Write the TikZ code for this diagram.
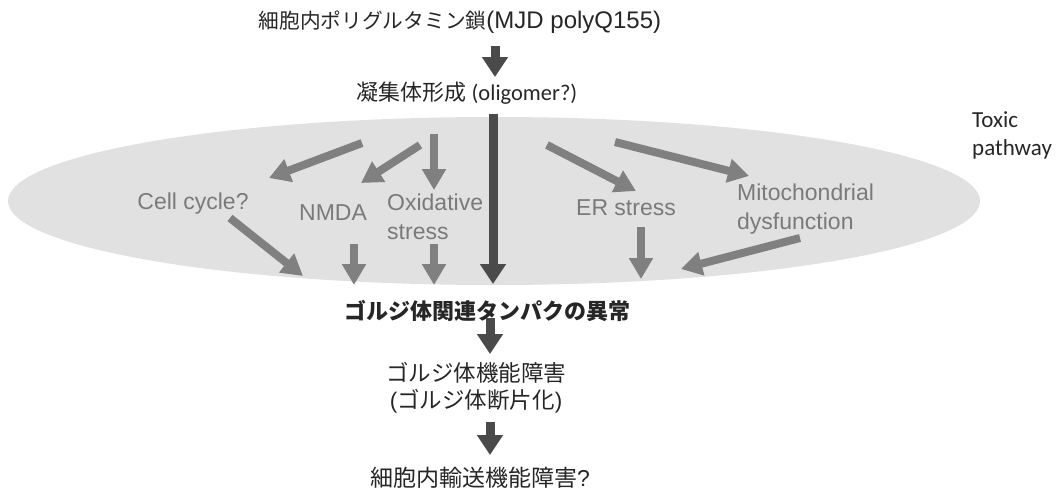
\documentclass[tikz,border=0pt]{standalone}
\usepackage{fontspec}
\setmainfont{Liberation Sans}
\newfontfamily\jpfont{Noto Sans CJK JP}
\newfontfamily\latinfont{Liberation Sans}
\newfontfamily\carlitofont{Carlito}
\usetikzlibrary{arrows.meta,shapes.geometric}
\definecolor{darkarr}{HTML}{4A4A4A}
\definecolor{grayarr}{HTML}{808080}
\definecolor{graytxt}{HTML}{7A7A7A}
\definecolor{ellfill}{HTML}{E1E1E1}
\definecolor{maintxt}{HTML}{262626}
\begin{document}
\begin{tikzpicture}[x=1pt,y=-1pt,
  jptext/.style={font=\jpfont\fontsize{22}{27}\selectfont, text=maintxt, inner sep=0pt, align=center},
  entext/.style={font=\latinfont\fontsize{23}{29}\selectfont, text=graytxt, inner sep=0pt, align=left},
  darkarrow/.style={draw=darkarr, line width=9pt, -{Triangle[width=25pt,length=20pt]}},
  grayarrow/.style={draw=grayarr, line width=8pt, -{Triangle[width=23pt,length=21pt]}},
  ell/.style={ellipse, fill=ellfill, draw=none, minimum width=972pt, minimum height=168pt, inner sep=0pt}
]
\useasboundingbox (0,0) rectangle (1059,491);
\node[ell] (zone) at (494,201) {};

% main texts
\node[jptext, font=\jpfont\fontsize{20.7}{27}\selectfont] (t1) at (460,22) {細胞内ポリグルタミン鎖{\latinfont\fontsize{24}{27}\selectfont(MJD polyQ155)}};
\node[jptext] (t2) at (467,93) {凝集体形成 {\carlitofont\fontsize{22.5}{27}\selectfont(oligomer?)}};
\node[jptext, font=\jpfont\bfseries\fontsize{22}{27}\selectfont] (t3) at (487,311) {ゴルジ体関連タンパクの異常};
\node[jptext, font=\jpfont\fontsize{22.5}{27}\selectfont] (t4) at (476,388) {ゴルジ体機能障害\\{\latinfont(}ゴルジ体断片化{\latinfont)}};
\node[jptext, font=\jpfont\fontsize{23}{27}\selectfont] (t5) at (480,478) {細胞内輸送機能障害{\latinfont ?}};
\node[font=\carlitofont\fontsize{23}{28}\selectfont, text=maintxt, align=left, inner sep=0pt, anchor=west] (tox) at (972,135) {Toxic\\pathway};

% gray labels
\node[entext] (cc) at (193,204) {Cell cycle?};
\node[entext] (nmda) at (333,213) {NMDA};
\node[entext, anchor=west] (ox) at (387,217) {Oxidative\\stress};
\node[entext] (er) at (626,208) {ER stress};
\node[entext, anchor=west] (mito) at (737,209) {Mitochondrial\\dysfunction};

% coordinates
\coordinate (a1s) at (495,46);
\coordinate (a1e) at (495,77);
\coordinate (ms) at (493,114);
\coordinate (me) at (493,284);
\coordinate (a3s) at (490,318);
\coordinate (a3e) at (490,354);
\coordinate (a4s) at (490,422);
\coordinate (a4e) at (490,455);

\coordinate (g1s) at (362,143);
\coordinate (g1e) at (269,178);
\coordinate (g2s) at (420,145);
\coordinate (g2e) at (361,183);
\coordinate (g3s) at (434,134);
\coordinate (g3e) at (434,190);
\coordinate (g4s) at (230,218);
\coordinate (g4e) at (303,276);
\coordinate (g5s) at (354,244);
\coordinate (g5e) at (354,285);
\coordinate (g6s) at (434,244);
\coordinate (g6e) at (434,285);
\coordinate (g7s) at (547,145);
\coordinate (g7e) at (636,191);
\coordinate (g8s) at (615,142);
\coordinate (g8e) at (749,176);
\coordinate (g9s) at (641,227);
\coordinate (g9e) at (641,279);
\coordinate (g10s) at (800,238);
\coordinate (g10e) at (681,269);

% dark arrows
\draw[darkarrow] (a1s) -- (a1e);
\draw[darkarrow] (ms) -- (me);
\draw[darkarrow] (a3s) -- (a3e);
\draw[darkarrow] (a4s) -- (a4e);

% gray arrows
\draw[grayarrow] (g1s) -- (g1e);
\draw[grayarrow] (g2s) -- (g2e);
\draw[grayarrow] (g3s) -- (g3e);
\draw[grayarrow] (g4s) -- (g4e);
\draw[grayarrow] (g5s) -- (g5e);
\draw[grayarrow] (g6s) -- (g6e);
\draw[grayarrow] (g7s) -- (g7e);
\draw[grayarrow] (g8s) -- (g8e);
\draw[grayarrow] (g9s) -- (g9e);
\draw[grayarrow] (g10s) -- (g10e);
\end{tikzpicture}
\end{document}
